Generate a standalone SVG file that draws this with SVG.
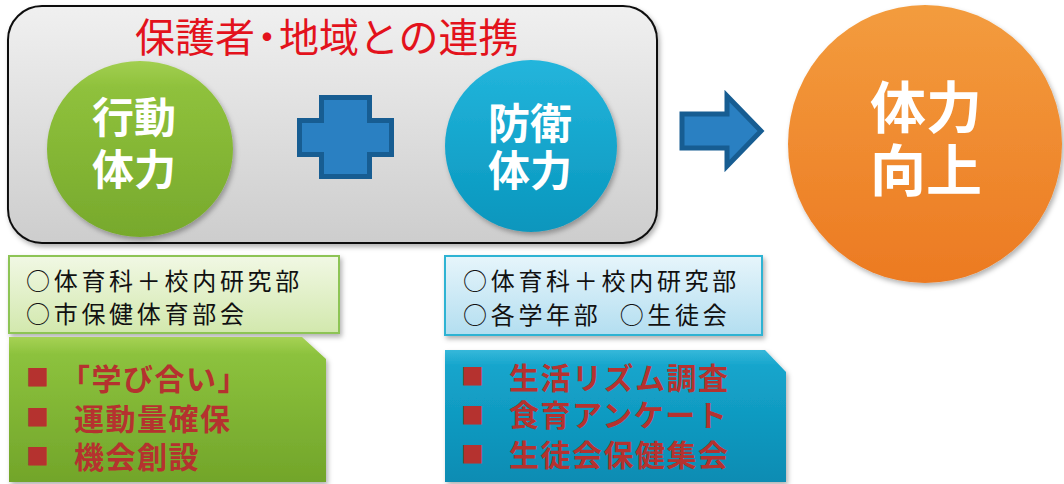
<svg xmlns="http://www.w3.org/2000/svg" width="1064" height="484" viewBox="0 0 1064 484">
<defs>
<linearGradient id="gPanel" x1="0" y1="0" x2="0" y2="1"><stop offset="0" stop-color="#f0f0f0"/><stop offset="1" stop-color="#cdcdcd"/></linearGradient>
<linearGradient id="gGreen" x1="0" y1="0" x2="0" y2="1"><stop offset="0" stop-color="#a2cf50"/><stop offset="0.15" stop-color="#8fc13c"/><stop offset="1" stop-color="#77a92c"/></linearGradient>
<linearGradient id="gBlue" x1="0" y1="0" x2="0" y2="1"><stop offset="0" stop-color="#23b5dc"/><stop offset="1" stop-color="#0896bd"/></linearGradient>
<linearGradient id="gOrange" x1="0" y1="0" x2="0" y2="1"><stop offset="0" stop-color="#f39c3e"/><stop offset="1" stop-color="#ec7a22"/></linearGradient>
<linearGradient id="gLGreen" x1="0" y1="0" x2="0" y2="1"><stop offset="0" stop-color="#f1f8e4"/><stop offset="1" stop-color="#d2e8ad"/></linearGradient>
<linearGradient id="gDGreen" x1="0" y1="0" x2="0" y2="1"><stop offset="0" stop-color="#a6d255"/><stop offset="0.12" stop-color="#8cc23d"/><stop offset="1" stop-color="#72a52a"/></linearGradient>
<linearGradient id="gLBlue" x1="0" y1="0" x2="0" y2="1"><stop offset="0" stop-color="#e6f5fb"/><stop offset="1" stop-color="#b3def0"/></linearGradient>
<linearGradient id="gDBlue" x1="0" y1="0" x2="0" y2="1"><stop offset="0" stop-color="#36b8da"/><stop offset="0.12" stop-color="#15a5cc"/><stop offset="1" stop-color="#0a8cb3"/></linearGradient>
<filter id="sh" x="-10%" y="-10%" width="130%" height="130%"><feDropShadow dx="2" dy="3" stdDeviation="2.5" flood-color="#000" flood-opacity="0.3"/></filter>
</defs>
<style>
text{font-family:"Noto Sans CJK JP","Noto Sans CJK SC",sans-serif}
.title{font-size:40px;fill:#e3121c}
.circ{font-weight:700;fill:#fff;text-anchor:middle}
.info{font-size:24px;fill:#111;letter-spacing:3.7px}
.item{font-size:30px;font-weight:700;fill:#b5322f;letter-spacing:1.5px}
.bul{font-size:23px;fill:#b5322f}
.shape{fill:#2a80c2;stroke:#175d92;stroke-width:5;stroke-linejoin:miter}
</style>
<g id="panel">
<rect x="8" y="6" width="649" height="237" rx="34" fill="url(#gPanel)" stroke="#111" stroke-width="2" filter="url(#sh)"/>
<text class="title" x="135" y="52">保護者<tspan dx="-8">・</tspan><tspan dx="-8">地域との連携</tspan></text>
</g>
<g id="node-koudou">
<ellipse cx="140" cy="149" rx="93" ry="88" fill="url(#gGreen)" filter="url(#sh)"/>
<text class="circ" x="134" y="133" font-size="42">行動</text>
<text class="circ" x="134" y="185" font-size="42">体力</text>
</g>
<g id="node-bouei">
<ellipse cx="531" cy="146" rx="86" ry="86" fill="url(#gBlue)" filter="url(#sh)"/>
<text class="circ" x="530" y="139" font-size="42">防衛</text>
<text class="circ" x="530" y="186" font-size="42">体力</text>
</g>
<g id="node-koujou">
<ellipse cx="925" cy="144" rx="137" ry="139" fill="url(#gOrange)" filter="url(#sh)"/>
<text class="circ" x="926" y="128" font-size="56">体力</text>
<text class="circ" x="926" y="191" font-size="56">向上</text>
</g>
<g id="connectors">
<path class="shape" d="M321.5,97.5 H369.5 V120.5 H391.5 V154.5 H369.5 V176.5 H321.5 V154.5 H299.5 V120.5 H321.5 Z"/>
<path class="shape" d="M682,114 H727 V96 L761,131 L727,166 V148 H682 Z"/>
</g>
<g id="info-green">
<rect x="9" y="256" width="330" height="77" fill="url(#gLGreen)" stroke="#8dc455" stroke-width="2" filter="url(#sh)"/>
<text class="info" x="26" y="290">○体育科＋校内研究部</text>
<text class="info" x="26" y="323">○市保健体育部会</text>
</g>
<g id="items-green">
<path d="M9,337 H302 L326,359 V482 H9 Z" fill="url(#gDGreen)" filter="url(#sh)"/>
<text class="bul" x="26" y="386">■</text>
<text class="bul" x="26" y="426">■</text>
<text class="bul" x="26" y="465">■</text>
<text class="item" x="60" y="390">「学び合い」</text>
<text class="item" x="74" y="430">運動量確保</text>
<text class="item" x="74" y="468">機会創設</text>
</g>
<g id="info-blue">
<rect x="445" y="256" width="317" height="79" fill="url(#gLBlue)" stroke="#2db3d3" stroke-width="2" filter="url(#sh)"/>
<text class="info" x="463" y="290">○体育科＋校内研究部</text>
<text class="info" x="463" y="324" xml:space="preserve">○各学年部  ○生徒会</text>
</g>
<g id="items-blue">
<path d="M445,350 H765 L786,372 V482 H445 Z" fill="url(#gDBlue)" filter="url(#sh)"/>
<text class="bul" x="461" y="385">■</text>
<text class="bul" x="461" y="424">■</text>
<text class="bul" x="461" y="463">■</text>
<text class="item" x="509" y="389">生活リズム調査</text>
<text class="item" x="509" y="426">食育アンケート</text>
<text class="item" x="509" y="466">生徒会保健集会</text>
</g>
</svg>
